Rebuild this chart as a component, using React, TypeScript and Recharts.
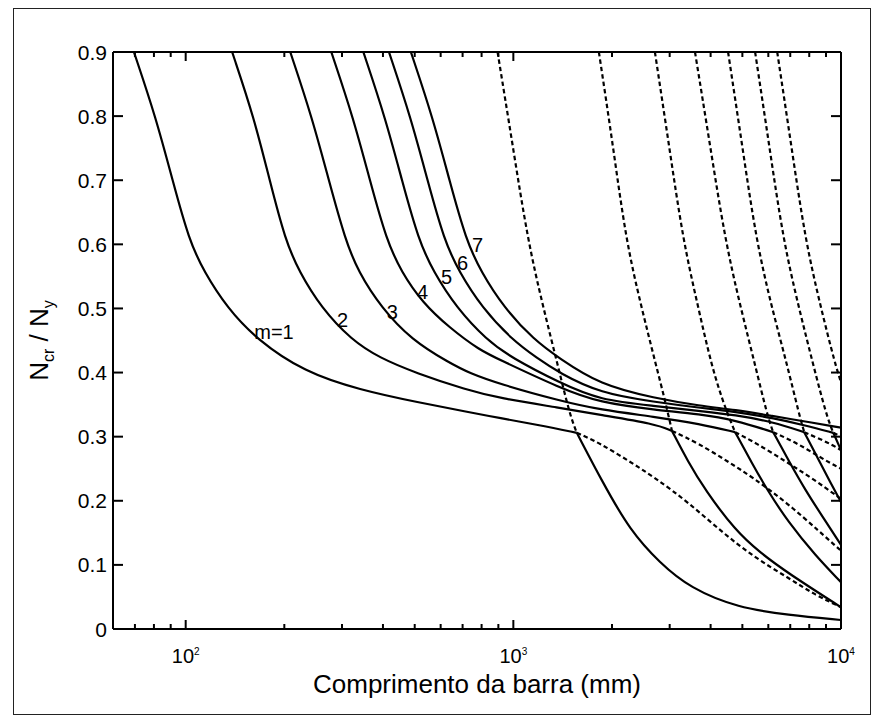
import React from "react";
import { LineChart, Line, XAxis, YAxis, ReferenceDot } from "recharts";

type Pair = [number, number];

// [bar length (mm), Ncr/Ny]
// solid curves: local -> plateau part, one per half-wave number m
const solidM1: Pair[] = [[69.5, 0.9], [81.2, 0.797], [91.5, 0.697], [102.3, 0.607], [113.8, 0.557], [133.8, 0.501], [165.2, 0.451], [230, 0.401], [338.8, 0.373], [517, 0.353], [720, 0.339], [908, 0.329], [1203, 0.318], [1562, 0.306]];
const solidM2: Pair[] = [[138.6, 0.9], [161.8, 0.797], [181, 0.697], [201.2, 0.607], [222.1, 0.557], [259.3, 0.501], [320.2, 0.451], [390, 0.423], [506, 0.399], [720, 0.373], [908, 0.36], [1386, 0.345], [1836, 0.334], [2704, 0.32], [3049, 0.309]];
const solidM3: Pair[] = [[208.5, 0.9], [243.4, 0.797], [274.3, 0.697], [307, 0.607], [336.4, 0.557], [395.6, 0.501], [488.7, 0.451], [638.3, 0.415], [735, 0.399], [908, 0.382], [1386, 0.356], [1836, 0.342], [2704, 0.331], [3713, 0.32], [4752, 0.307]];
const solidM4: Pair[] = [[278.2, 0.9], [324.9, 0.797], [366.1, 0.697], [409.8, 0.607], [455.3, 0.557], [528, 0.509], [638.3, 0.47], [788.6, 0.435], [908, 0.42], [1386, 0.376], [1836, 0.353], [2704, 0.342], [3713, 0.335], [4752, 0.326], [6209, 0.307]];
const solidM5: Pair[] = [[348.5, 0.9], [406.9, 0.797], [458.6, 0.697], [513.4, 0.607], [570.5, 0.557], [670.8, 0.501], [828.4, 0.451], [988, 0.423], [1386, 0.384], [1836, 0.357], [2704, 0.348], [3713, 0.34], [4752, 0.334], [6209, 0.323], [7724, 0.307]];
const solidM6: Pair[] = [[417.2, 0.9], [487, 0.797], [548.9, 0.697], [614.3, 0.607], [682.9, 0.557], [802.8, 0.501], [991.6, 0.451], [1178.7, 0.423], [1386, 0.399], [1836, 0.368], [2704, 0.354], [3713, 0.345], [4752, 0.339], [6209, 0.329], [7724, 0.318], [9473, 0.306]];
const solidM7: Pair[] = [[486.7, 0.9], [568.2, 0.797], [640.3, 0.697], [716.8, 0.607], [796.9, 0.557], [936.6, 0.501], [1157, 0.451], [1375, 0.423], [1836, 0.381], [2704, 0.36], [3713, 0.348], [4752, 0.342], [6209, 0.332], [7724, 0.324], [10000, 0.314]];

// solid curves after the mode change (steep drop)
const dropM1: Pair[] = [[1562, 0.306], [1876, 0.228], [2268, 0.154], [2800, 0.103], [3460, 0.064], [4852, 0.033], [6898, 0.022], [10000, 0.014]];
const dropM2: Pair[] = [[3049, 0.309], [3412, 0.261], [3846, 0.217], [4752, 0.154], [5665, 0.119], [6898, 0.087], [10000, 0.034]];
const dropM3: Pair[] = [[4752, 0.307], [5317, 0.261], [5951, 0.217], [6898, 0.167], [8344, 0.115], [10000, 0.073]];
const dropM4: Pair[] = [[6209, 0.307], [6950, 0.261], [7778, 0.217], [8766, 0.176], [10000, 0.131]];
const dropM5: Pair[] = [[7724, 0.307], [8523, 0.265], [9275, 0.229], [10000, 0.198]];
const dropM6: Pair[] = [[9473, 0.306], [10000, 0.279]];

// dashed: steep curves above the crossing
const upperM1: Pair[] = [[895, 0.9], [995, 0.755], [1106, 0.607], [1229, 0.505], [1366, 0.412], [1487, 0.334], [1562, 0.306]];
const upperM2: Pair[] = [[1824, 0.9], [2013, 0.755], [2205, 0.607], [2451, 0.505], [2724, 0.412], [2902, 0.357], [3049, 0.309]];
const upperM3: Pair[] = [[2704, 0.9], [2985, 0.755], [3294, 0.607], [3635, 0.51], [4040, 0.407], [4428, 0.345], [4752, 0.307]];
const upperM4: Pair[] = [[3584, 0.9], [3983, 0.755], [4428, 0.607], [4920, 0.505], [5468, 0.412], [5951, 0.334], [6209, 0.307]];
const upperM5: Pair[] = [[4522, 0.9], [4991, 0.755], [5508, 0.607], [6121, 0.505], [6850, 0.412], [7456, 0.334], [7724, 0.307]];
const upperM6: Pair[] = [[5468, 0.9], [6035, 0.755], [6661, 0.607], [7403, 0.505], [8228, 0.412], [9016, 0.334], [9473, 0.306]];
const upperM7: Pair[] = [[6387, 0.9], [7047, 0.755], [7778, 0.607], [8643, 0.505], [9608, 0.412], [10000, 0.385]];

// dashed: plateau continued past the crossing
const contM1: Pair[] = [[1562, 0.306], [1836, 0.29], [2268, 0.261], [2704, 0.236], [3412, 0.198], [4335, 0.151], [5468, 0.111], [6898, 0.08], [8344, 0.053], [10000, 0.034]];
const contM2: Pair[] = [[3049, 0.309], [3661, 0.29], [4522, 0.261], [5395, 0.236], [6801, 0.198], [8643, 0.151], [10000, 0.122]];
const contM3: Pair[] = [[4752, 0.307], [5508, 0.29], [6801, 0.261], [8114, 0.236], [10000, 0.203]];
const contM4: Pair[] = [[6209, 0.307], [7352, 0.29], [9081, 0.261], [10000, 0.25]];
const contM5: Pair[] = [[7724, 0.307], [9209, 0.29], [10000, 0.279]];
const contM6: Pair[] = [[9473, 0.306], [10000, 0.3]];

const curveLabels = [
  { text: "m=1", x: 186, y: 0.464 },
  { text: "2", x: 301, y: 0.482 },
  { text: "3", x: 427, y: 0.494 },
  { text: "4", x: 528, y: 0.526 },
  { text: "5", x: 625, y: 0.549 },
  { text: "6", x: 700, y: 0.571 },
  { text: "7", x: 778, y: 0.599 },
];

const xTicks = [70, 80, 90, 100, 200, 300, 400, 500, 600, 700, 800, 900, 1000, 2000, 3000, 4000, 5000, 6000, 7000, 8000, 9000, 10000];
const decades = [100, 1000, 10000];
const yTicks = [0, 0.1, 0.2, 0.3, 0.4, 0.5, 0.6, 0.7, 0.8, 0.9];

const solids = [solidM1, solidM2, solidM3, solidM4, solidM5, solidM6, solidM7, dropM1, dropM2, dropM3, dropM4, dropM5, dropM6];
const dashed = [upperM1, upperM2, upperM3, upperM4, upperM5, upperM6, upperM7, contM1, contM2, contM3, contM4, contM5, contM6];

const toPts = (a: Pair[]) => a.map(([x, y]) => ({ x, y }));

const BottomTick = (props: any) => {
  const { x, y, payload } = props;
  const major = decades.includes(payload.value);
  return (
    <g>
      <line x1={x} y1={y} x2={x} y2={y - (major ? 9 : 5)} stroke="#000" strokeWidth={2} />
      {major && (
        <text x={x} y={y + 34} textAnchor="middle" fontSize={20} fill="#000">
          10
          <tspan dy={-8} fontSize={10}>
            {Math.round(Math.log10(payload.value))}
          </tspan>
        </text>
      )}
    </g>
  );
};

const TopTick = (props: any) => {
  const { x, y, payload } = props;
  const major = decades.includes(payload.value);
  return <line x1={x} y1={y} x2={x} y2={y + (major ? 9 : 5)} stroke="#000" strokeWidth={2} />;
};

const LeftTick = (props: any) => {
  const { x, y, payload } = props;
  const v = payload.value;
  return (
    <g>
      <line x1={x} y1={y} x2={x + 10} y2={y} stroke="#000" strokeWidth={2} />
      <text x={x - 6} y={y} dy="0.36em" textAnchor="end" fontSize={21} fill="#000">
        {v === 0 ? "0" : v.toFixed(1)}
      </text>
    </g>
  );
};

const RightTick = (props: any) => {
  const { x, y } = props;
  return <line x1={x} y1={y} x2={x - 10} y2={y} stroke="#000" strokeWidth={2} />;
};

const YTitle = (props: any) => {
  const { viewBox } = props;
  const cx = viewBox.x + 20;
  const cy = viewBox.y + viewBox.height / 2;
  return (
    <text x={cx} y={cy} transform={`rotate(-90, ${cx}, ${cy})`} textAnchor="middle" fontSize={26} fill="#000">
      N<tspan dy={6} fontSize={16}>cr</tspan>
      <tspan dy={-6}> / N</tspan>
      <tspan dy={6} fontSize={16}>y</tspan>
    </text>
  );
};

const XTitle = (props: any) => {
  const { viewBox } = props;
  return (
    <text x={viewBox.x + viewBox.width / 2} y={viewBox.y + 64} textAnchor="middle" fontSize={26} fill="#000">
      Comprimento da barra (mm)
    </text>
  );
};

const axisLine = { stroke: "#000", strokeWidth: 2 };

export default function App() {
  return (
    <div
      style={{
        marginLeft: 5,
        width: 856,
        height: 705,
        border: "1px solid #222",
        fontFamily: "'Liberation Sans', Arial, sans-serif",
      }}
    >
      <LineChart width={856} height={705} margin={{ top: 42, right: 28, left: 14, bottom: 21 }}>
        <XAxis
          xAxisId="b"
          dataKey="x"
          type="number"
          scale="log"
          domain={[60, 10000]}
          allowDataOverflow
          ticks={xTicks}
          interval={0}
          tickSize={0}
          tickMargin={0}
          tickLine={false}
          axisLine={axisLine}
          tick={BottomTick}
          height={64}
          label={XTitle}
        />
        <XAxis
          xAxisId="t"
          orientation="top"
          dataKey="x"
          type="number"
          scale="log"
          domain={[60, 10000]}
          allowDataOverflow
          ticks={xTicks}
          interval={0}
          tickSize={0}
          tickMargin={0}
          tickLine={false}
          axisLine={axisLine}
          tick={TopTick}
          height={1}
        />
        <YAxis
          yAxisId="l"
          type="number"
          domain={[0, 0.9]}
          allowDataOverflow
          ticks={yTicks}
          interval={0}
          tickSize={0}
          tickMargin={0}
          tickLine={false}
          axisLine={axisLine}
          tick={LeftTick}
          width={85}
          label={YTitle}
        />
        <YAxis
          yAxisId="r"
          orientation="right"
          type="number"
          domain={[0, 0.9]}
          allowDataOverflow
          ticks={yTicks}
          interval={0}
          tickSize={0}
          tickMargin={0}
          tickLine={false}
          axisLine={axisLine}
          tick={RightTick}
          width={1}
        />
        {solids.map((s, i) => (
          <Line
            key={`s${i}`}
            xAxisId="b"
            yAxisId="l"
            data={toPts(s)}
            dataKey="y"
            type="basis"
            stroke="#000"
            strokeWidth={2.2}
            dot={false}
            activeDot={false}
            isAnimationActive={false}
          />
        ))}
        {dashed.map((s, i) => (
          <Line
            key={`d${i}`}
            xAxisId="b"
            yAxisId="l"
            data={toPts(s)}
            dataKey="y"
            type="basis"
            stroke="#000"
            strokeWidth={2.2}
            strokeDasharray="4.5 3"
            dot={false}
            activeDot={false}
            isAnimationActive={false}
          />
        ))}
        {curveLabels.map((l) => (
          <ReferenceDot
            key={l.text}
            xAxisId="b"
            yAxisId="l"
            x={l.x}
            y={l.y}
            r={0}
            shape={(p: any) => (
              <text x={p.cx} y={p.cy} dy="0.36em" textAnchor="middle" fontSize={20} fill="#000">
                {l.text}
              </text>
            )}
          />
        ))}
      </LineChart>
    </div>
  );
}
